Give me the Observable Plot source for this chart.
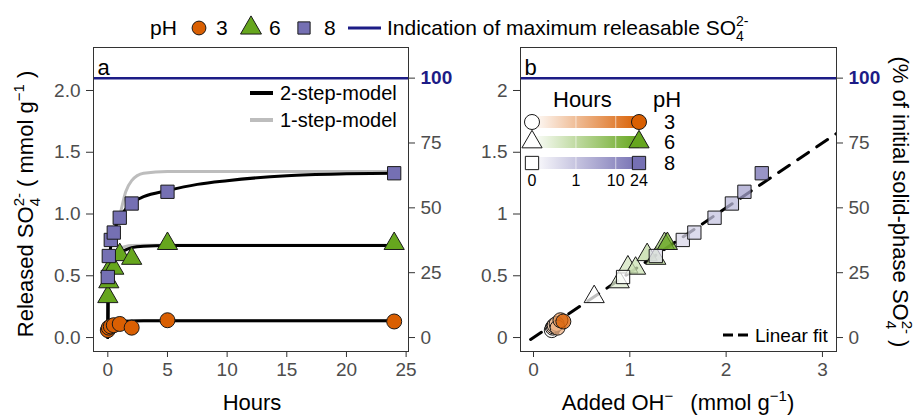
<!DOCTYPE html>
<html><head><meta charset="utf-8">
<script src="https://cdn.jsdelivr.net/npm/d3@7"></script>
<script src="https://cdn.jsdelivr.net/npm/@observablehq/plot@0.6"></script>
<style>
body{margin:0;background:#fff;}
#wrap{position:relative;width:919px;height:416px;overflow:hidden;font-family:"Liberation Sans",Arial,sans-serif;background:#fff;}
#wrap svg{position:absolute;}
</style></head><body><div id="wrap"></div>
<script>
// ---------------- data ----------------
const maxSO4 = 2.1;                       // 100 % of initial solid-phase SO4
const pHLevels = ["3", "6", "8"];
const pHColors = ["#D95F02", "#66A61E", "#7570B3"];
const pHSymbols = ["circle", "triangle", "square"];
const hours = [0, 0.083, 0.25, 0.5, 1, 2, 5, 24];
const so4_pH3 = [0.06, 0.08, 0.09, 0.10, 0.11, 0.08, 0.14, 0.13];
const so4_pH6 = [0.33, 0.45, 0.57, 0.56, 0.67, 0.64, 0.76, 0.76];
const so4_pH8 = [0.49, 0.66, 0.79, 0.85, 0.97, 1.085, 1.18, 1.33];
const oh_pH3 = [0.19, 0.20, 0.21, 0.22, 0.24, 0.25, 0.28, 0.31];
const oh_pH6 = [0.63, 0.89, 0.98, 1.06, 1.18, 1.27, 1.36, 1.39];
const oh_pH8 = [0.93, 1.27, 1.55, 1.67, 1.88, 2.06, 2.19, 2.37];
const model_hours = [0, 0.02, 0.1, 0.25, 0.5, 1, 1.5, 2, 3, 5, 7.5, 10, 15, 20, 24];
const step2_pH3 = [0, 0.06, 0.09, 0.11, 0.12, 0.128, 0.131, 0.133, 0.135, 0.135, 0.135, 0.135, 0.135, 0.135, 0.135];
const step2_pH6 = [0, 0.30, 0.45, 0.54, 0.62, 0.68, 0.71, 0.728, 0.740, 0.745, 0.745, 0.745, 0.745, 0.745, 0.745];
const step2_pH8 = [0, 0.40, 0.60, 0.74, 0.85, 0.97, 1.04, 1.09, 1.14, 1.19, 1.24, 1.27, 1.31, 1.325, 1.33];
const step1_pH3 = [0, 0.06, 0.10, 0.12, 0.13, 0.134, 0.135, 0.135, 0.135, 0.135, 0.135, 0.135, 0.135, 0.135, 0.135];
const step1_pH6 = [0, 0.30, 0.45, 0.55, 0.64, 0.72, 0.738, 0.745, 0.748, 0.748, 0.748, 0.748, 0.748, 0.748, 0.748];
const step1_pH8 = [0, 0.40, 0.60, 0.74, 0.85, 0.99, 1.18, 1.27, 1.33, 1.345, 1.345, 1.345, 1.345, 1.345, 1.345];
const fit_oh = [-0.03, 3.2];
const fit_so4 = [-0.016, 1.68];
const xTicksA = [0, 5, 10, 15, 20, 25];
const xTicksB = [0, 1, 2, 3];
const yTicks = [0, 0.5, 1, 1.5, 2];
const pctTicks = [0, 25, 50, 75];
const legendHourTicks = [0, 1, 10, 24];

// ---------------- helpers ----------------
const FONT = '"Liberation Sans", Arial, sans-serif';
const NAVY = "#1c1c86";
const TICKC = "#4d4d4d";
const so4s = [so4_pH3, so4_pH6, so4_pH8];
const ohs = [oh_pH3, oh_pH6, oh_pH8];
const step2 = [step2_pH3, step2_pH6, step2_pH8];
const step1 = [step1_pH3, step1_pH6, step1_pH8];
const hourFrac = d3.scalePow().exponent(0.28).domain([0, 24]).range([0, 1]);

const points = [];
pHLevels.forEach((p, i) => hours.forEach((t, j) => points.push({
  pH: p, t, so4: so4s[i][j], oh: ohs[i][j],
  full: pHColors[i],
  shade: d3.interpolateRgb("#ffffff", pHColors[i])(hourFrac(t))
})));
const m2 = [], m1 = [];
pHLevels.forEach((p, i) => model_hours.forEach((t, j) => {
  m2.push({pH: p, t, v: step2[i][j]});
  m1.push({pH: p, t, v: step1[i][j]});
}));
const fitRows = fit_oh.map((x, i) => ({x, y: fit_so4[i]}));

const yDomain = [-0.113, 2.348];
const axisCommon = {fontSize: 19, fill: TICKC, stroke: "#333", label: null};

function rightAxes() {
  return [
    Plot.axisY(pctTicks.map(p => p / 100 * maxSO4), {...axisCommon, anchor: "right", tickSize: 6, tickPadding: 6,
      tickFormat: d => String(Math.round(d / maxSO4 * 100))}),
    Plot.axisY([maxSO4], {...axisCommon, anchor: "right", tickSize: 6, tickPadding: 6,
      tickFormat: () => "100", fill: NAVY, fontWeight: "bold"})
  ];
}

// ---------------- panel a ----------------
const plotA = Plot.plot({
  width: 460, height: 416, marginLeft: 93, marginRight: 52, marginTop: 47, marginBottom: 65,
  x: {domain: [-1.2, 25.2], axis: null},
  y: {domain: yDomain, axis: null},
  symbol: {domain: pHLevels, range: pHSymbols},
  color: {type: "identity"},
  style: {fontFamily: FONT, background: "transparent", color: "#333"},
  marks: [
    Plot.ruleY([maxSO4], {stroke: NAVY, strokeWidth: 2.5}),
    Plot.line(m1, {x: "t", y: "v", z: "pH", stroke: "#bdbdbd", strokeWidth: 3, curve: "monotone-x"}),
    Plot.line(m2, {x: "t", y: "v", z: "pH", stroke: "#000", strokeWidth: 3, curve: "monotone-x"}),
    Plot.dot(points, {x: "t", y: "so4", symbol: "pH", fill: d => d.full, stroke: "#1a1a1a", strokeWidth: 1, r: 7.5}),
    Plot.frame({stroke: "#333"}),
    Plot.axisX(xTicksA, {...axisCommon, anchor: "bottom", tickSize: 6, tickPadding: 5}),
    Plot.axisY(yTicks, {...axisCommon, anchor: "left", tickSize: 7, tickPadding: 6, tickFormat: d3.format(".1f")}),
    ...rightAxes(),
    Plot.text(["a"], {frameAnchor: "top-left", dx: 4, dy: 12, fontSize: 22, fill: "#000", textAnchor: "start", lineAnchor: "top"})
  ]
});
plotA.style.left = "0px"; plotA.style.top = "0px";
document.getElementById("wrap").appendChild(plotA);

// ---------------- panel b ----------------
const plotB = Plot.plot({
  width: 459, height: 416, marginLeft: 60, marginRight: 83, marginTop: 47, marginBottom: 65,
  x: {domain: [-0.135, 3.146], axis: null},
  y: {domain: yDomain, axis: null},
  symbol: {domain: pHLevels, range: pHSymbols},
  color: {type: "identity"},
  style: {fontFamily: FONT, background: "transparent", color: "#333"},
  marks: [
    Plot.ruleY([maxSO4], {stroke: NAVY, strokeWidth: 2.5}),
    Plot.line(fitRows, {x: "x", y: "y", stroke: "#000", strokeWidth: 3, strokeDasharray: "13,10", clip: true}),
    Plot.dot(points, {x: "oh", y: "so4", symbol: "pH", fill: d => d.shade, fillOpacity: 0.75, stroke: "#1a1a1a", strokeWidth: 1, r: 7.5}),
    Plot.frame({stroke: "#333"}),
    Plot.axisX(xTicksB, {...axisCommon, anchor: "bottom", tickSize: 6, tickPadding: 5, tickFormat: d => String(d)}),
    Plot.axisY(yTicks, {...axisCommon, anchor: "left", tickSize: 7, tickPadding: 6, tickFormat: d => String(d)}),
    ...rightAxes(),
    Plot.text(["b"], {frameAnchor: "top-left", dx: 4, dy: 12, fontSize: 22, fill: "#000", textAnchor: "start", lineAnchor: "top"})
  ]
});
plotB.style.left = "460px"; plotB.style.top = "0px";
document.getElementById("wrap").appendChild(plotB);

// ---------------- overlay: titles & legends ----------------
const ov = d3.select("#wrap").append("svg").attr("width", 919).attr("height", 416)
  .style("left", "0px").style("top", "0px").style("font-family", FONT);

// rich text: parts [{t}|{sup}|{supsub:[sup,sub]}]; baseline restored on the next normal tspan
function rich(sel, x, y, size, parts, opts = {}) {
  const txt = sel.append("text").attr("x", x).attr("y", y).attr("font-size", size).attr("fill", "#000");
  if (opts.anchor) txt.attr("text-anchor", opts.anchor);
  if (opts.transform) txt.attr("transform", opts.transform);
  const small = Math.round(size * 0.68);
  let pendDy = 0, pendDx = 0;
  for (const p of parts) {
    if (p.t !== undefined) {
      const s = txt.append("tspan").attr("font-size", size).text(p.t);
      if (pendDy) s.attr("dy", pendDy);
      if (pendDx) s.attr("dx", pendDx);
      pendDy = 0; pendDx = 0;
    } else if (p.sup !== undefined) {
      txt.append("tspan").attr("font-size", small).attr("dy", pendDy - size * 0.42).text(p.sup);
      pendDy = size * 0.42; pendDx = 0;
    } else if (p.supsub) {
      const s = txt.append("tspan").attr("font-size", small).attr("dy", pendDy - size * 0.42).text(p.supsub[0]);
      const w = s.node().getComputedTextLength();
      const b = txt.append("tspan").attr("font-size", small).attr("dx", -w).attr("dy", size * 0.72).text(p.supsub[1]);
      const w2 = b.node().getComputedTextLength();
      pendDy = -size * 0.30; pendDx = Math.max(0, w - w2);
    }
  }
  return txt;
}
function sym(sel, type, x, y, fill, size = 177) {
  sel.append("path").attr("d", d3.symbol().type(type).size(size)())
    .attr("transform", `translate(${x},${y})`).attr("fill", fill).attr("stroke", "#1a1a1a").attr("stroke-width", 1);
}
const symTypes = [d3.symbolCircle, d3.symbolTriangle, d3.symbolSquare];

// top legend
ov.append("text").attr("x", 150).attr("y", 35).attr("font-size", 21).text("pH");
const topSymX = [199, 251, 304], topNumX = [216, 269, 324];
pHLevels.forEach((p, i) => {
  sym(ov, symTypes[i], topSymX[i], 28, pHColors[i], i === 1 ? 190 : 150);
  ov.append("text").attr("x", topNumX[i]).attr("y", 35).attr("font-size", 21).text(p);
});
ov.append("line").attr("x1", 348).attr("x2", 381).attr("y1", 28).attr("y2", 28).attr("stroke", NAVY).attr("stroke-width", 3);
rich(ov, 387, 35, 21, [{t: "Indication of maximum releasable SO"}, {supsub: ["2-", "4"]}]);

// axis titles
rich(ov, 0, 0, 22, [{t: "Released SO"}, {supsub: ["2-", "4"]}, {t: " ( mmol g"}, {sup: "\u22121"}, {t: " )"}],
  {anchor: "middle", transform: "translate(33,204) rotate(-90)"});
rich(ov, 0, 0, 22, [{t: "(% of initial solid-phase SO"}, {supsub: ["2-", "4"]}, {t: " )"}],
  {anchor: "middle", transform: "translate(893,202) rotate(90)"});
ov.append("text").attr("x", 252).attr("y", 410).attr("font-size", 22).attr("text-anchor", "middle").text("Hours");
rich(ov, 678, 410, 22, [{t: "Added OH"}, {sup: "\u2212"}, {t: "\u2002 (mmol g"}, {sup: "\u22121"}, {t: ")"}], {anchor: "middle"});

// panel a model legend
[["#000", "2-step-model", 93], ["#bdbdbd", "1-step-model", 120]].forEach(([c, label, y]) => {
  ov.append("line").attr("x1", 250).attr("x2", 273).attr("y1", y).attr("y2", y).attr("stroke", c).attr("stroke-width", 4);
  ov.append("text").attr("x", 280).attr("y", y + 7).attr("font-size", 20).text(label);
});

// panel b hours/pH legend
ov.append("text").attr("x", 553).attr("y", 107).attr("font-size", 22).text("Hours");
ov.append("text").attr("x", 653).attr("y", 107).attr("font-size", 22).text("pH");
const barX0 = 532, barX1 = 639, rowY = [122, 142, 163];
const defs = ov.append("defs");
pHLevels.forEach((p, i) => {
  const g = defs.append("linearGradient").attr("id", "grad" + i);
  g.append("stop").attr("offset", "0%").attr("stop-color", "#ffffff");
  g.append("stop").attr("offset", "100%").attr("stop-color", pHColors[i]);
  ov.append("rect").attr("x", barX0).attr("y", rowY[i] - 6).attr("width", barX1 - barX0).attr("height", 12)
    .attr("fill", `url(#grad${i})`);
  legendHourTicks.slice(1, 3).forEach(t => {
    const x = barX0 + hourFrac(t) * (barX1 - barX0);
    ov.append("line").attr("x1", x).attr("x2", x).attr("y1", rowY[i] - 6).attr("y2", rowY[i] + 6)
      .attr("stroke", "#fff").attr("stroke-opacity", 0.6).attr("stroke-width", 1);
  });
  sym(ov, symTypes[i], barX0, rowY[i], "#ffffff");
  sym(ov, symTypes[i], barX1, rowY[i], pHColors[i]);
  ov.append("text").attr("x", 664).attr("y", rowY[i] + 7).attr("font-size", 20).text(p);
});
legendHourTicks.forEach(t => {
  ov.append("text").attr("x", barX0 + hourFrac(t) * (barX1 - barX0)).attr("y", 186)
    .attr("font-size", 16).attr("text-anchor", "middle").text(String(t));
});

// linear fit legend
ov.append("line").attr("x1", 723).attr("x2", 748).attr("y1", 335).attr("y2", 335)
  .attr("stroke", "#000").attr("stroke-width", 3).attr("stroke-dasharray", "10,5");
ov.append("text").attr("x", 755).attr("y", 342).attr("font-size", 19).text("Linear fit");
</script>
</body></html>
